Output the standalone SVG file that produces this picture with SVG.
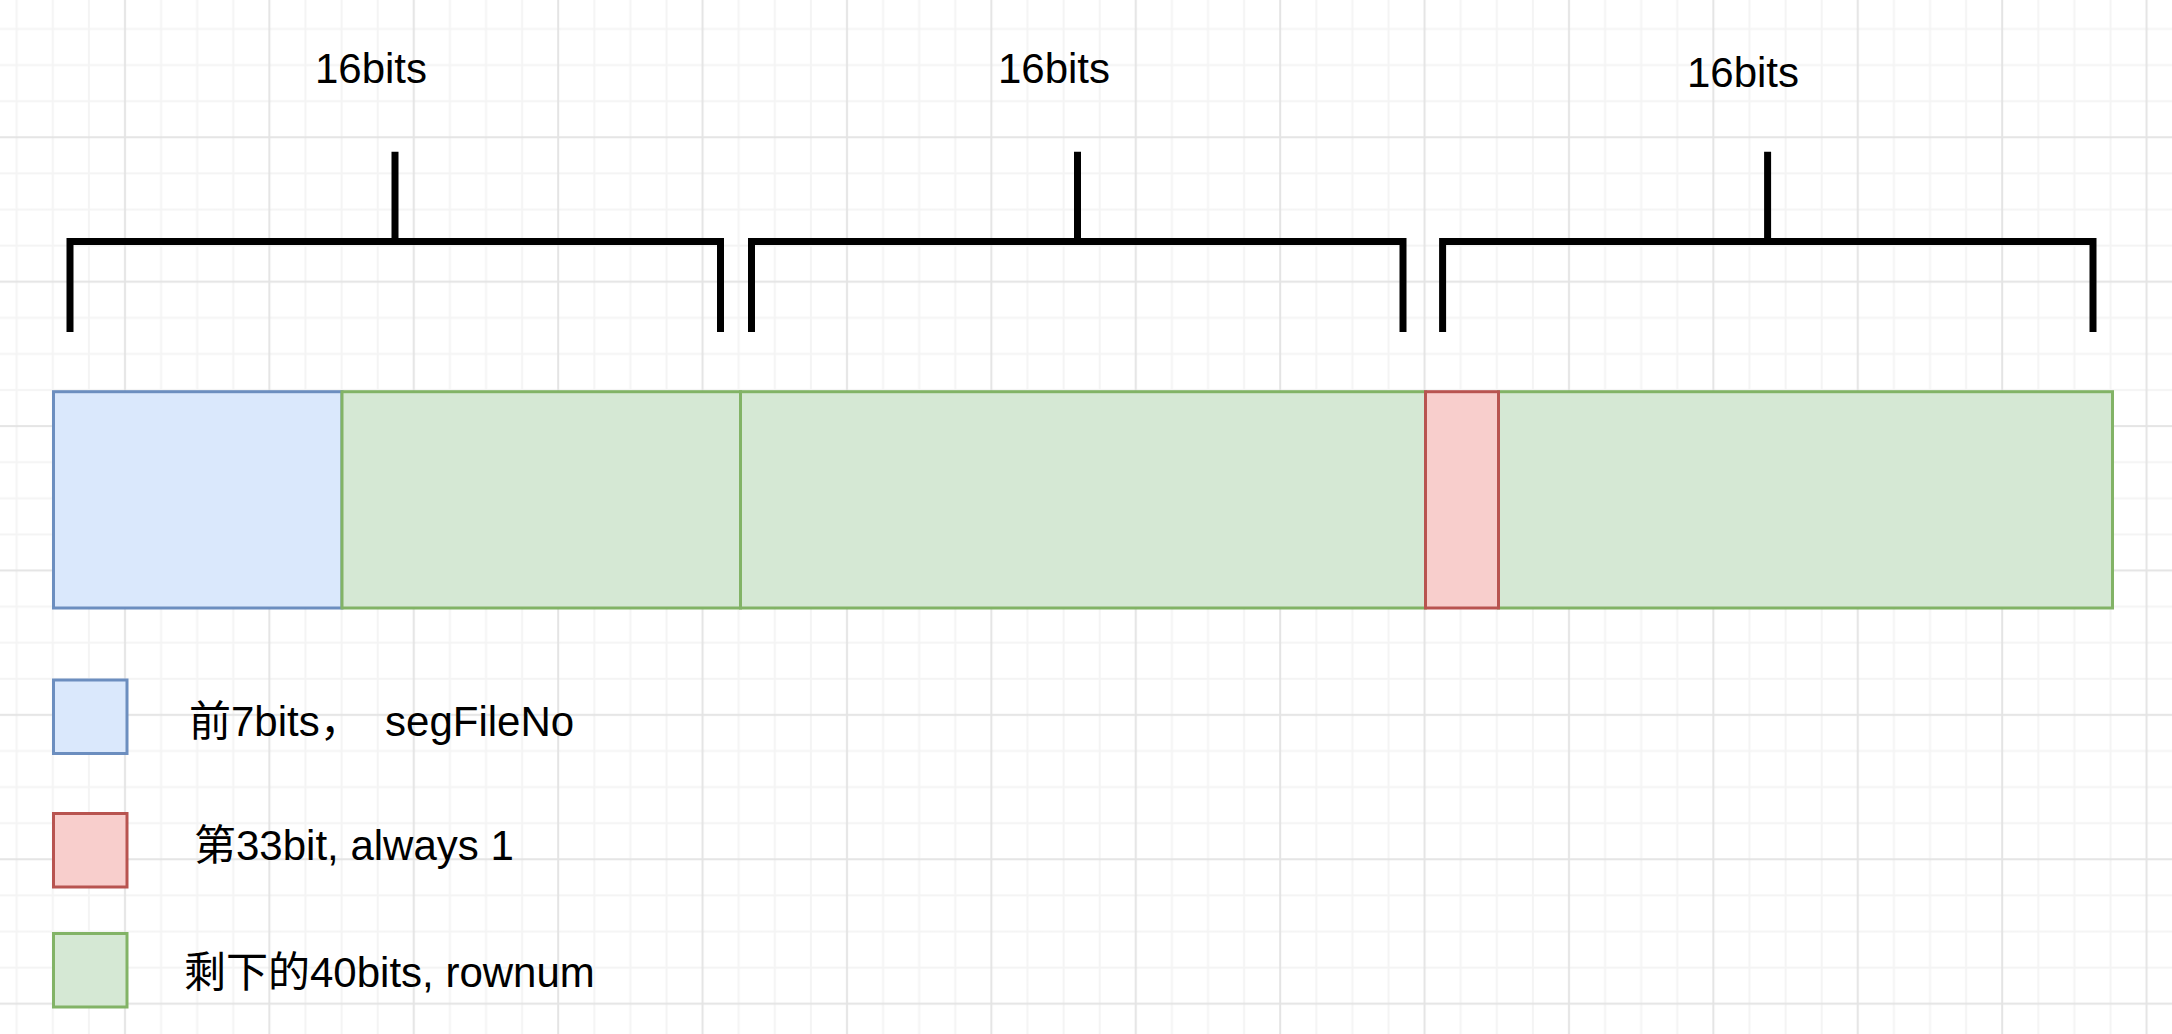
<svg xmlns="http://www.w3.org/2000/svg" width="2172" height="1034" viewBox="0 0 2172 1034">
  <style>
    .lbl { font-family: "Liberation Sans", "Noto Sans CJK SC", Arial, sans-serif; font-size: 42px; fill: #000000; }
    .mid { text-anchor: middle; }
    .brk { fill: none; stroke: #000000; stroke-width: 7; stroke-linecap: butt; stroke-linejoin: miter; }
    .blue { fill: #dae8fc; stroke: #6c8ebf; stroke-width: 3; }
    .green { fill: #d5e8d4; stroke: #82b366; stroke-width: 3; }
    .red { fill: #f8cecc; stroke: #b85450; stroke-width: 3; }
  </style>
  <defs>
    <pattern id="gridPat" patternUnits="userSpaceOnUse" x="106.95" y="119.25" width="144.4" height="144.4">
      <rect x="53.15" y="0" width="2" height="144.4" fill="#f4f4f4"/>
      <rect x="89.25" y="0" width="2" height="144.4" fill="#f4f4f4"/>
      <rect x="125.35" y="0" width="2" height="144.4" fill="#f4f4f4"/>
      <rect x="0" y="53.15" width="144.4" height="2" fill="#f4f4f4"/>
      <rect x="0" y="89.25" width="144.4" height="2" fill="#f4f4f4"/>
      <rect x="0" y="125.35" width="144.4" height="2" fill="#f4f4f4"/>
      <rect x="17.05" y="0" width="2" height="144.4" fill="#e4e4e4"/>
      <rect x="0" y="17.05" width="144.4" height="2" fill="#e4e4e4"/>
    </pattern>
  </defs>

  <g id="background">
    <rect x="0" y="0" width="2172" height="1034" fill="#ffffff"/>
    <rect x="0" y="0" width="2172" height="1034" fill="url(#gridPat)"/>
  </g>

  <g id="bracket-1">
    <path class="brk" d="M70 332 V241.4 H720.5 V332 M395 151.7 V241.4"/>
  </g>
  <g id="label-1">
    <text class="lbl mid" x="371" y="83">16bits</text>
  </g>

  <g id="bracket-2">
    <path class="brk" d="M751.5 332 V241.4 H1403 V332 M1077.5 151.7 V241.4"/>
  </g>
  <g id="label-2">
    <text class="lbl mid" x="1054" y="83">16bits</text>
  </g>

  <g id="bracket-3">
    <path class="brk" d="M1442.6 332 V241.4 H2093 V332 M1767.6 151.7 V241.4"/>
  </g>
  <g id="label-3">
    <text class="lbl mid" x="1743" y="87">16bits</text>
  </g>

  <g id="seg-blue">
    <rect class="blue" x="53.5" y="391.7" width="288.5" height="216.3"/>
  </g>
  <g id="seg-green-1">
    <rect class="green" x="342" y="391.7" width="398.5" height="216.3"/>
  </g>
  <g id="seg-green-2">
    <rect class="green" x="740.5" y="391.7" width="685" height="216.3"/>
  </g>
  <g id="seg-green-3">
    <rect class="green" x="1498.5" y="391.7" width="614" height="216.3"/>
  </g>
  <g id="seg-red">
    <rect class="red" x="1425.5" y="391.7" width="73" height="216.3"/>
  </g>

  <g id="legend-blue">
    <rect class="blue" x="53.5" y="680" width="73.5" height="73.5"/>
    <text class="lbl" x="189" y="736" style="white-space:pre">前7bits，  segFileNo</text>
  </g>
  <g id="legend-red">
    <rect class="red" x="53.5" y="813.5" width="73.5" height="73.5"/>
    <text class="lbl" x="194" y="860">第33bit, always 1</text>
  </g>
  <g id="legend-green">
    <rect class="green" x="53.5" y="933.5" width="73.5" height="73.5"/>
    <text class="lbl" x="184" y="987">剩下的40bits, rownum</text>
  </g>
</svg>
